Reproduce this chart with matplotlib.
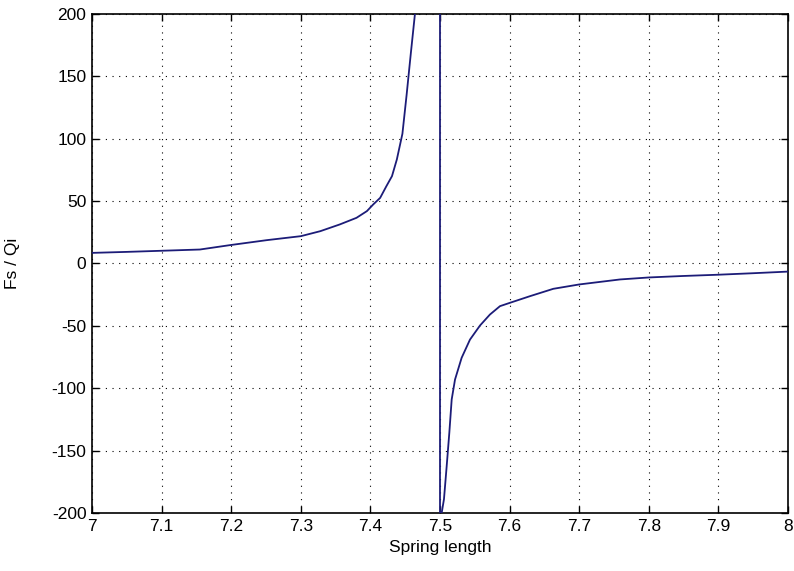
import numpy as np
import matplotlib.pyplot as plt

plt.rcParams['font.family'] = ['Liberation Sans', 'DejaVu Sans']
plt.rcParams['axes.unicode_minus'] = False

# spring force ratio on each side of the singular length 7.5
length_left = [7.00, 7.05, 7.10, 7.155, 7.198, 7.251, 7.300, 7.328, 7.356,
               7.380, 7.395, 7.404, 7.414, 7.423, 7.431, 7.438, 7.446,
               7.452, 7.458, 7.464, 7.468]
force_left = [8.5, 9.3, 10.2, 11.2, 14.7, 18.7, 21.9, 25.9, 31.3,
              36.6, 42.0, 47.3, 52.6, 62.0, 70.0, 83.4, 104.0,
              135.0, 168.0, 200.0, 222.0]

length_pole = [7.5, 7.5]
force_pole = [1e5, -1e5]

length_right = [7.5024, 7.5057, 7.5096, 7.5134, 7.5168, 7.5216, 7.5311,
                7.5431, 7.5575, 7.5718, 7.5862, 7.6006, 7.6293, 7.6628,
                7.7001, 7.7586, 7.80, 7.85, 7.90, 7.95, 8.00]
force_right = [-200.0, -189.0, -162.5, -135.7, -109.0, -93.0, -75.6,
               -61.0, -49.7, -40.9, -34.2, -31.5, -26.2, -20.3,
               -16.8, -12.8, -11.2, -10.0, -9.0, -7.8, -6.5]

x_ticks = [7, 7.1, 7.2, 7.3, 7.4, 7.5, 7.6, 7.7, 7.8, 7.9, 8]
x_tick_labels = ['7', '7.1', '7.2', '7.3', '7.4', '7.5', '7.6', '7.7', '7.8', '7.9', '8']
y_ticks = [-200, -150, -100, -50, 0, 50, 100, 150, 200]


def main():
    x = np.array(length_left + length_pole + length_right)
    y = np.array(force_left + force_pole + force_right)

    fig = plt.figure(figsize=(7.94, 5.71), dpi=100)
    ax = fig.add_axes([0.1159, 0.1016, 0.8765, 0.8739])

    ax.plot(x, y, color='#1c1c78', linewidth=1.3, zorder=3)

    ax.set_xlim(7, 8)
    ax.set_ylim(-200, 200)
    ax.set_xticks(x_ticks)
    ax.set_xticklabels(x_tick_labels)
    ax.set_yticks(y_ticks)

    ax.grid(True, color='k', linestyle=(0, (1, 5)), linewidth=0.8)
    ax.tick_params(direction='in', top=True, right=True, length=5,
                   width=1, labelsize=12.5, pad=4)
    for spine in ax.spines.values():
        spine.set_linewidth(1.2)

    ax.set_xlabel('Spring length', fontsize=12.5, labelpad=5)
    ax.set_ylabel('Fs / Qi', fontsize=12.5, labelpad=23)

    fig.savefig('out.png', dpi=100)
    plt.close(fig)


if __name__ == '__main__':
    main()
